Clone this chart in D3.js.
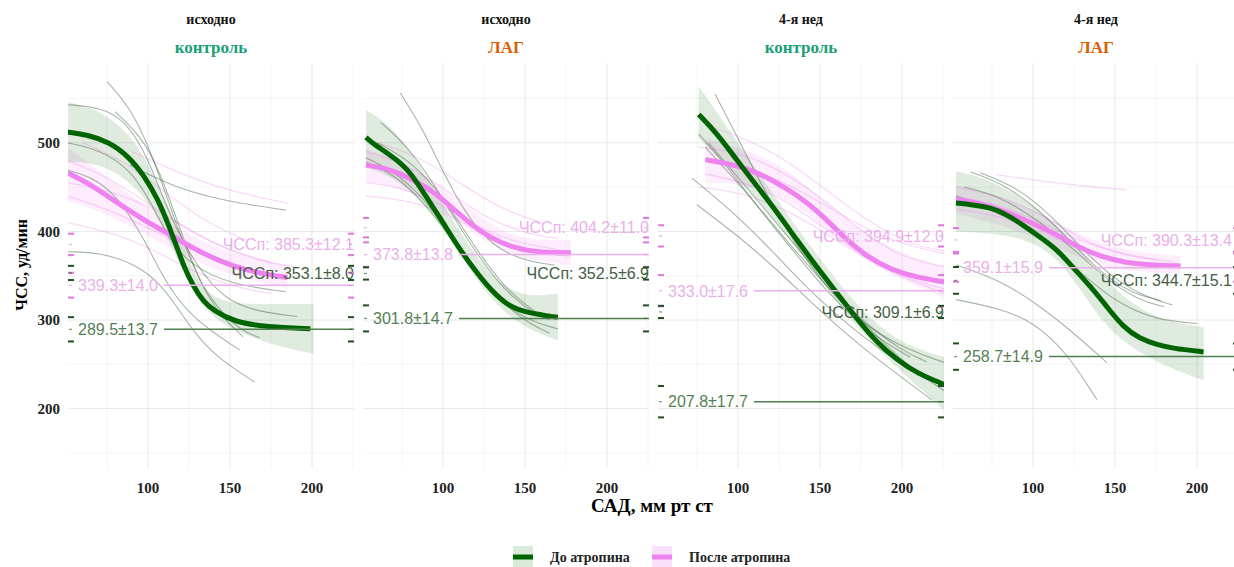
<!DOCTYPE html>
<html>
<head>
<meta charset="utf-8">
<script src="https://cdn.jsdelivr.net/npm/d3@7"></script>
<style>
body{margin:0;background:#fff}
svg text{font-family:"Liberation Serif",serif}
</style>
</head>
<body>
<svg id="chart" width="1234" height="567"></svg>
<script>

// facet strips
var stripTop = ["исходно", "исходно", "4-я нед", "4-я нед"]
var stripGroup = ["контроль", "ЛАГ", "контроль", "ЛАГ"]
var groupColor = {"контроль": "#1b9e77", "ЛАГ": "#d95f02"}

var xTicks = [100, 150, 200]
var yTicks = [200, 300, 400, 500]

// ЧССп (plateau) and min values, mean and SE, per panel
var hrpBefore = [353.1, 352.5, 309.1, 344.7]
var hrpBeforeSe = [8.0, 6.9, 6.9, 15.1]
var hrpAfter = [385.3, 404.2, 394.9, 390.3]
var hrpAfterSe = [12.1, 11.0, 12.0, 13.4]
var minBefore = [289.5, 301.8, 207.8, 258.7]
var minBeforeSe = [13.7, 14.7, 17.7, 14.9]
var minAfter = [339.3, 373.8, 333.0, 359.1]
var minAfterSe = [14.0, 13.8, 17.6, 15.9]

// group fits [САД, ЧСС]
var fitBefore = [
  [[51,512],[63,509],[76,501],[88,485],[98,462],[106,436],[112,410],[117,385],[122,360],[127,340],[134,320],[140,311],[152,298],[173,292],[199,290]],
  [[53,506],[58,498],[68,486],[79,470],[88,444],[99,413],[109,383],[119,357],[129,334],[140,315],[152,308],[170,303]],
  [[76,532],[87,511],[99,481],[112,450],[124,421],[136,390],[148,360],[160,331],[173,300],[185,274],[197,255],[209,240],[226,227]],
  [[53,432],[63,430],[74,427],[84,419],[94,407],[104,394],[115,379],[124,360],[135,338],[145,315],[155,292],[165,279],[176,272],[185,268],[204,264]]
]
var fitAfter = [
  [[51,466],[63,455],[76,439],[88,424],[100,410],[112,398],[132,376],[152,360],[173,351],[185,348]],
  [[53,475],[68,470],[82,458],[95,444],[107,424],[119,405],[129,393],[143,381],[160,376],[178,376]],
  [[80,481],[93,477],[107,470],[121,458],[136,441],[150,421],[164,394],[179,371],[193,357],[209,348],[226,343]],
  [[53,436],[67,432],[84,422],[100,409],[117,394],[129,381],[141,372],[157,364],[173,362],[190,361]]
]

// confidence bands [САД, low, high]
var bandBefore = [
  [[51,478,546],[65,478,540],[80,468,525],[95,445,495],[105,420,455],[115,380,420],[125,340,365],[135,310,330],[150,290,318],[175,272,318],[201,262,318]],
  [[53,472,537],[70,462,518],[90,430,462],[110,375,400],[130,320,345],[150,290,325],[170,277,330]],
  [[76,505,564],[100,462,500],[125,408,432],[150,345,368],[175,286,310],[200,240,272],[226,198,258]],
  [[53,400,468],[75,398,458],[100,390,430],[120,362,398],[140,300,352],[160,268,318],[180,248,298],[204,232,292]]
]
var bandAfter = [
  [[51,435,495],[75,420,462],[100,395,425],[125,370,395],[150,350,375],[175,340,365],[185,335,362]],
  [[53,455,492],[70,452,485],[90,435,460],[110,410,435],[130,383,405],[150,368,390],[178,362,390]],
  [[80,455,505],[95,455,498],[110,450,488],[125,440,475],[140,425,455],[155,400,430],[170,378,408],[185,360,390],[200,345,375],[226,325,360]],
  [[53,420,452],[80,408,440],[105,390,420],[130,368,395],[155,355,378],[190,352,372]]
]

// individual animals
var indivBefore = [
  [
    [[75,569],[89,540],[101,494],[113,430],[126,365],[138,322],[156,288],[168,280]],
    [[51,543],[71,540],[86,526],[100,484],[113,418],[129,362],[147,322],[168,309],[191,304]],
    [[80,535],[95,509],[107,470],[120,400],[132,340],[144,305],[158,281]],
    [[51,500],[71,492],[89,470],[101,436],[113,390],[126,362],[150,340],[184,332]],
    [[51,377],[71,376],[91,364],[106,344],[117,317],[129,283],[144,255],[165,230]],
    [[89,475],[113,452],[144,435],[184,424]],
    [[51,469],[68,460],[83,436],[98,390],[110,345],[123,311],[138,288],[156,266]]
  ],
  [
    [[74,556],[88,515],[103,455],[119,405],[135,378],[152,366],[168,362]],
    [[62,523],[78,497],[94,455],[110,405],[126,360],[142,325],[158,305],[165,300]],
    [[53,483],[68,470],[88,440],[108,385],[128,335],[148,300],[165,285]],
    [[53,478],[70,465],[90,430],[110,380],[130,330],[150,300],[170,290]],
    [[60,500],[80,480],[100,440],[120,380],[140,330],[160,305]]
  ],
  [
    [[86,555],[100,505],[115,450],[130,400],[150,345],[175,295],[205,265],[226,252]],
    [[76,510],[95,470],[115,420],[135,375],[155,330],[180,285],[205,258]],
    [[80,495],[100,455],[125,400],[150,345],[175,300],[200,265],[215,253]],
    [[72,460],[95,425],[120,380],[145,330],[170,290],[195,255],[213,240]],
    [[82,500],[105,450],[130,395],[155,340],[180,290],[205,245],[226,220]],
    [[75,430],[100,395],[125,355],[150,310],[175,270],[200,235],[218,210]]
  ],
  [
    [[62,467],[80,455],[100,430],[120,395],[140,355],[160,330],[178,322]],
    [[58,450],[80,440],[105,410],[125,380],[145,345],[165,322],[180,315]],
    [[68,466],[90,450],[110,420],[130,380],[150,345],[170,325],[185,317]],
    [[53,362],[80,345],[105,315],[125,285],[145,252]],
    [[53,323],[80,313],[100,298],[120,265],[139,210]],
    [[53,440],[75,425],[100,400],[125,360],[150,320],[175,300],[200,296]]
  ]
]
var indivAfter = [
  [
    [[51,480],[75,462],[100,432],[125,400],[150,378],[175,365]],
    [[51,440],[75,425],[100,405],[125,380],[150,360],[170,350]],
    [[51,410],[80,398],[105,378],[130,352],[155,336],[175,330]],
    [[51,455],[80,445],[110,420],[140,385],[170,365],[190,360]],
    [[60,500],[85,480],[110,445],[135,410],[160,390]],
    [[90,490],[120,465],[150,445],[185,432]]
  ],
  [
    [[53,490],[75,478],[100,450],[125,415],[150,398],[170,392]],
    [[53,455],[75,450],[100,430],[125,400],[150,385],[175,378]],
    [[53,440],[80,435],[105,418],[130,392],[155,376],[178,372]],
    [[60,500],[85,485],[110,455],[135,425],[160,410]]
  ],
  [
    [[80,520],[105,505],[130,480],[155,445],[180,410],[205,385],[226,378]],
    [[76,495],[100,490],[125,470],[150,440],[175,400],[200,370],[226,360]],
    [[80,465],[105,455],[130,435],[155,400],[180,368],[205,345],[226,335]],
    [[82,480],[110,470],[140,445],[170,410],[200,385],[226,375]],
    [[76,450],[100,445],[130,425],[160,390],[190,355],[226,330]]
  ],
  [
    [[78,464],[100,458],[130,451],[157,447]],
    [[53,450],[80,440],[105,420],[130,390],[155,372],[185,366]],
    [[53,425],[80,418],[105,400],[130,378],[160,365],[190,362]],
    [[53,440],[85,428],[115,400],[145,378],[175,368]]
  ]
]

var legendLabels = ["До атропина", "После атропина"]


var panelLeft = [68, 363, 658, 953]
var panelW = 286
var panelTop = 63
var panelBottom = 468

var green = "#006400"
var pink = "#ee82ee"

var svg = d3.select("#chart")

var xScale = d3.scaleLinear().domain([51.2, 225.6]).range([0, panelW])
var yScale = d3.scaleLinear().domain([133, 590]).range([panelBottom, panelTop])

var line = d3.line()
    .x(function(d){ return xScale(d[0]) })
    .y(function(d){ return yScale(d[1]) })
    .curve(d3.curveBasis)

var area = d3.area()
    .x(function(d){ return xScale(d[0]) })
    .y0(function(d){ return yScale(d[1]) })
    .y1(function(d){ return yScale(d[2]) })
    .curve(d3.curveBasis)

var drawPanel = function(i)
{
    var g = svg.append("g")
        .attr("transform", "translate(" + panelLeft[i] + ",0)")

    // last panel runs off the page, keep its right labels inside
    var labelRight = Math.min(panelW, 1232 - panelLeft[i])

    svg.append("clipPath").attr("id", "clip" + i)
        .append("rect")
        .attr("x", 0).attr("y", panelTop)
        .attr("width", panelW).attr("height", panelBottom - panelTop)

    // minor grid
    var minorX = [75, 125, 175, 225]
    var minorY = [150, 250, 350, 450, 550]
    g.selectAll(".mx").data(minorX).enter().append("line")
        .attr("x1", function(d){ return xScale(d) }).attr("x2", function(d){ return xScale(d) })
        .attr("y1", panelTop).attr("y2", panelBottom)
        .attr("stroke", "#f3f3f3").attr("stroke-width", 0.8)
    g.selectAll(".my").data(minorY).enter().append("line")
        .attr("x1", 0).attr("x2", panelW)
        .attr("y1", function(d){ return yScale(d) }).attr("y2", function(d){ return yScale(d) })
        .attr("stroke", "#f3f3f3").attr("stroke-width", 0.8)
    // major grid
    g.selectAll(".gx").data(xTicks).enter().append("line")
        .attr("x1", function(d){ return xScale(d) }).attr("x2", function(d){ return xScale(d) })
        .attr("y1", panelTop).attr("y2", panelBottom)
        .attr("stroke", "#e8e8e8").attr("stroke-width", 1)
    g.selectAll(".gy").data(yTicks).enter().append("line")
        .attr("x1", 0).attr("x2", panelW)
        .attr("y1", function(d){ return yScale(d) }).attr("y2", function(d){ return yScale(d) })
        .attr("stroke", "#e8e8e8").attr("stroke-width", 1)

    var c = g.append("g").attr("clip-path", "url(#clip" + i + ")")

    c.append("path").attr("d", area(bandAfter[i]))
        .attr("fill", pink).attr("opacity", 0.14)
    c.append("path").attr("d", area(bandBefore[i]))
        .attr("fill", green).attr("opacity", 0.13)

    // min labels on the left with a line to the right edge
    var mins = [
        {v: minAfter[i], se: minAfterSe[i], col: "#eab0ea", lc: "#eab0ea"},
        {v: minBefore[i], se: minBeforeSe[i], col: "#557f55", lc: "#4f7f4f"}
    ]
    mins.forEach(function(m)
    {
        var t = g.append("text")
            .attr("x", 10).attr("y", yScale(m.v))
            .attr("dy", "0.36em")
            .style("font-family", "'Liberation Sans',Arial,sans-serif")
            .style("font-size", "16px")
            .attr("fill", m.col)
            .text(m.v.toFixed(1) + "±" + m.se.toFixed(1))
        var w = t.node().getComputedTextLength()
        g.append("line")
            .attr("x1", 10 + w + 6).attr("x2", panelW)
            .attr("y1", yScale(m.v)).attr("y2", yScale(m.v))
            .attr("stroke", m.lc).attr("stroke-width", 1.5)
    })

    // ЧССп labels on the right
    var hrps = [
        {v: hrpAfter[i], se: hrpAfterSe[i], col: "#eab0ea"},
        {v: hrpBefore[i], se: hrpBeforeSe[i], col: "#445f44"}
    ]
    hrps.forEach(function(m)
    {
        g.append("text")
            .attr("x", labelRight).attr("y", yScale(m.v))
            .attr("dy", "0.36em")
            .attr("text-anchor", "end")
            .style("font-family", "'Liberation Sans',Arial,sans-serif")
            .style("font-size", "16px")
            .attr("fill", m.col)
            .text("ЧССп: " + m.v.toFixed(1) + "±" + m.se.toFixed(1))
    })

    indivAfter[i].forEach(function(d)
    {
        c.append("path").attr("d", line(d))
            .attr("fill", "none").attr("stroke", pink)
            .attr("stroke-width", 1.3).attr("opacity", 0.3)
    })
    indivBefore[i].forEach(function(d)
    {
        c.append("path").attr("d", line(d))
            .attr("fill", "none").attr("stroke", "#3d5f3d")
            .attr("stroke-width", 1.1).attr("opacity", 0.45)
    })

    c.append("path").attr("d", line(fitAfter[i]))
        .attr("fill", "none").attr("stroke", pink).attr("stroke-width", 5)
    c.append("path").attr("d", line(fitBefore[i]))
        .attr("fill", "none").attr("stroke", green).attr("stroke-width", 5)

    // rug marks: mean and mean±SE on both edges
    var rugs = [
        {v: hrpAfter[i], se: hrpAfterSe[i], col: "#dd77dd"},
        {v: minAfter[i], se: minAfterSe[i], col: "#dd77dd"},
        {v: hrpBefore[i], se: hrpBeforeSe[i], col: "#1f4f1f"},
        {v: minBefore[i], se: minBeforeSe[i], col: "#1f4f1f"}
    ]
    rugs.forEach(function(r)
    {
        [0, panelW - 6].forEach(function(x0)
        {
            [r.v - r.se, r.v + r.se].forEach(function(v)
            {
                g.append("line")
                    .attr("x1", x0).attr("x2", x0 + 6)
                    .attr("y1", yScale(v)).attr("y2", yScale(v))
                    .attr("stroke", r.col).attr("stroke-width", 2)
            })
            g.append("line")
                .attr("x1", x0 + 1).attr("x2", x0 + 4)
                .attr("y1", yScale(r.v)).attr("y2", yScale(r.v))
                .attr("stroke", r.col).attr("stroke-width", 1.2).attr("opacity", 0.6)
        })
    })

    // strips
    var cx = panelW / 2
    g.append("text").attr("x", cx).attr("y", 24)
        .attr("text-anchor", "middle")
        .style("font-size", "14px").style("font-weight", "bold")
        .attr("fill", "#111")
        .text(stripTop[i])
    g.append("text").attr("x", cx).attr("y", 53)
        .attr("text-anchor", "middle")
        .style("font-size", "17px").style("font-weight", "bold")
        .attr("fill", groupColor[stripGroup[i]])
        .text(stripGroup[i])

    // x tick labels
    g.selectAll(".xt").data(xTicks).enter().append("text")
        .attr("x", function(d){ return xScale(d) })
        .attr("y", 493)
        .attr("text-anchor", "middle")
        .style("font-size", "15px").style("font-weight", "bold")
        .attr("fill", "#222")
        .text(function(d){ return d })
}

for (var i = 0; i < 4; i++)
{
    drawPanel(i)
}

// y tick labels
svg.selectAll(".yt").data(yTicks).enter().append("text")
    .attr("x", 60)
    .attr("y", function(d){ return yScale(d) })
    .attr("dy", "0.36em")
    .attr("text-anchor", "end")
    .style("font-size", "15px").style("font-weight", "bold")
    .attr("fill", "#222")
    .text(function(d){ return d })

// axis titles
svg.append("text")
    .attr("x", 652).attr("y", 512)
    .attr("text-anchor", "middle")
    .style("font-size", "19px").style("font-weight", "bold")
    .text("САД, мм рт ст")

svg.append("text")
    .attr("transform", "translate(27,265) rotate(-90)")
    .attr("text-anchor", "middle")
    .style("font-size", "16px").style("font-weight", "bold")
    .text("ЧСС, уд/мин")

// legend
var legendX = [513, 652]
var legendCol = [green, pink]
var legendFill = ["#d9ebd9", "#fbe0fb"]
legendLabels.forEach(function(lab, k)
{
    svg.append("rect")
        .attr("x", legendX[k]).attr("y", 546)
        .attr("width", 20).attr("height", 21)
        .attr("fill", legendFill[k])
    svg.append("line")
        .attr("x1", legendX[k]).attr("x2", legendX[k] + 20)
        .attr("y1", 557).attr("y2", 557)
        .attr("stroke", legendCol[k]).attr("stroke-width", 5)
    svg.append("text")
        .attr("x", legendX[k] + 37).attr("y", 562)
        .style("font-size", "14px").style("font-weight", "bold")
        .attr("fill", "#222")
        .text(lab)
})

</script>
</body>
</html>
